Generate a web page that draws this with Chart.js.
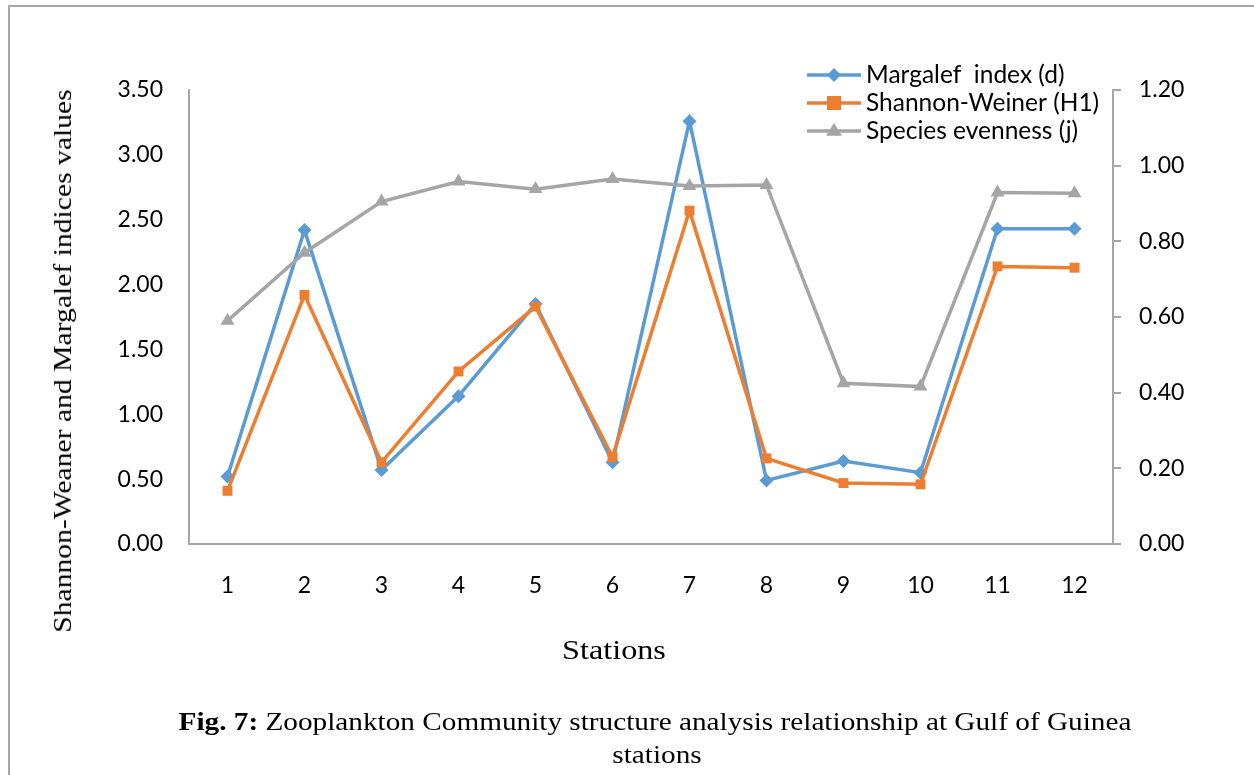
<!DOCTYPE html>
<html>
<head>
<meta charset="utf-8">
<script src="https://cdn.jsdelivr.net/npm/chart.js@4/dist/chart.umd.min.js"></script>
<style>
  html, body { margin: 0; padding: 0; background: #fff; }
  body { width: 1254px; height: 775px; position: relative; overflow: hidden; }
  #frame { position: absolute; left: 8px; top: 5px; width: 1400px; height: 900px;
           border-top: 2px solid #a6a6a6; border-left: 2px solid #a6a6a6; }
  #c { position: absolute; left: 0; top: 0; }
  .serif { font-family: "Liberation Serif", "Times New Roman", serif; color: #000; position: absolute; white-space: nowrap; }
  #ytitle { left: 63px; top: 361px; font-size: 26px; transform: translate(-50%, -50%) rotate(-90deg) scaleX(1.14); }
  #xtitle { left: 614px; top: 650px; font-size: 28px; transform: translate(-50%, -50%) scaleX(1.15); }
  #cap1 { left: 655px; top: 722px; font-size: 25px; transform: translate(-50%, -50%) scaleX(1.17); }
  #cap2 { left: 657px; top: 755px; font-size: 25px; transform: translate(-50%, -50%) scaleX(1.17); }
</style>
</head>
<body>
<div id="frame"></div>
<canvas id="c" width="1254" height="775"></canvas>
<div id="ytitle" class="serif">Shannon-Weaner and Margalef indices values</div>
<div id="xtitle" class="serif">Stations</div>
<div id="cap1" class="serif"><b>Fig. 7:</b> Zooplankton Community structure analysis relationship at Gulf of Guinea</div>
<div id="cap2" class="serif">stations</div>
<script>
const stations = ['1','2','3','4','5','6','7','8','9','10','11','12'];
const margalef = [0.52, 2.42, 0.57, 1.14, 1.85, 0.63, 3.26, 0.49, 0.64, 0.55, 2.43, 2.43];
const shannon  = [0.41, 1.92, 0.63, 1.33, 1.83, 0.67, 2.57, 0.66, 0.47, 0.46, 2.14, 2.13];
const evenness = [0.59, 0.77, 0.905, 0.958, 0.938, 0.965, 0.946, 0.949, 0.425, 0.416, 0.929, 0.927];
const seriesNames = ['Margalef  index (d)', 'Shannon-Weiner (H1)', 'Species evenness (j)'];

const BLUE = '#5B9BD5', ORANGE = '#ED7D31', GRAY = '#A5A5A5', AXIS = '#a6a6a6';
const TICKFONT = { family: 'Lato, "Open Sans", sans-serif', size: 23 };

function drawMarker(ctx, shape, x, y, color) {
  ctx.save();
  ctx.fillStyle = color;
  ctx.beginPath();
  if (shape === 'rectRot') {
    const r = 7;
    ctx.moveTo(x, y - r); ctx.lineTo(x + r, y); ctx.lineTo(x, y + r); ctx.lineTo(x - r, y);
  } else if (shape === 'rect') {
    const r = 7;
    ctx.rect(x - r, y - r, 2 * r, 2 * r);
  } else {
    const r = 8;
    ctx.moveTo(x, y - r); ctx.lineTo(x + r, y + r * 0.6); ctx.lineTo(x - r, y + r * 0.6);
  }
  ctx.closePath();
  ctx.fill();
  ctx.restore();
}

const legendPlugin = {
  id: 'customLegend',
  afterDraw(chart) {
    const ctx = chart.ctx;
    const rows = [75, 103, 131];
    chart.data.datasets.forEach((ds, i) => {
      const y = rows[i];
      ctx.save();
      ctx.strokeStyle = ds.borderColor;
      ctx.lineWidth = 3.5;
      ctx.beginPath(); ctx.moveTo(807, y); ctx.lineTo(861, y); ctx.stroke();
      ctx.restore();
      drawMarker(ctx, ds.pointStyle, 834, y, ds.borderColor);
      ctx.save();
      ctx.fillStyle = '#000';
      ctx.font = '24.5px Lato, "Open Sans", sans-serif';
      ctx.textBaseline = 'middle';
      ctx.textAlign = 'left';
      ctx.fillText(ds.label, 866, y);
      ctx.restore();
    });
  }
};

new Chart(document.getElementById('c'), {
  type: 'line',
  data: {
    labels: stations,
    datasets: [
      { label: seriesNames[0], data: margalef, yAxisID: 'y', borderColor: BLUE, backgroundColor: BLUE,
        borderWidth: 3.5, pointStyle: 'rectRot', pointRadius: 7, pointBorderWidth: 0, order: 2, tension: 0 },
      { label: seriesNames[1], data: shannon, yAxisID: 'y', borderColor: ORANGE, backgroundColor: ORANGE,
        borderWidth: 3.5, pointStyle: 'rect', pointRadius: 7, pointBorderWidth: 0, order: 1, tension: 0 },
      { label: seriesNames[2], data: evenness, yAxisID: 'y1', borderColor: GRAY, backgroundColor: GRAY,
        borderWidth: 3.5, pointStyle: 'triangle', pointRadius: 8, pointBorderWidth: 0, order: 0, tension: 0 }
    ]
  },
  options: {
    responsive: false,
    animation: false,
    layout: { padding: { top: 90, left: 0, right: 0, bottom: 0 } },
    plugins: { legend: { display: false }, tooltip: { enabled: false } },
    scales: {
      x: {
        offset: true,
        grid: { display: false, drawTicks: false },
        border: { display: true, color: AXIS, width: 2 },
        ticks: { color: '#000', font: TICKFONT, padding: 28 },
        afterFit(s) { s.height = 231; }
      },
      y: {
        position: 'left', min: 0, max: 3.5,
        grid: { display: false, drawTicks: false },
        border: { display: true, color: AXIS, width: 2 },
        ticks: { stepSize: 0.5, color: '#000', font: TICKFONT, padding: 26,
                 callback: v => Number(v).toFixed(2) },
        afterFit(s) { s.width = 189; }
      },
      y1: {
        position: 'right', min: 0, max: 1.2,
        grid: { display: true, drawOnChartArea: false, drawTicks: true, tickLength: 8, color: AXIS, lineWidth: 2 },
        border: { display: true, color: AXIS, width: 2 },
        ticks: { stepSize: 0.2, color: '#000', font: TICKFONT, padding: 18,
                 callback: v => Number(v).toFixed(2) },
        afterFit(s) { s.width = 141; }
      }
    }
  },
  plugins: [legendPlugin]
});
</script>
</body>
</html>
